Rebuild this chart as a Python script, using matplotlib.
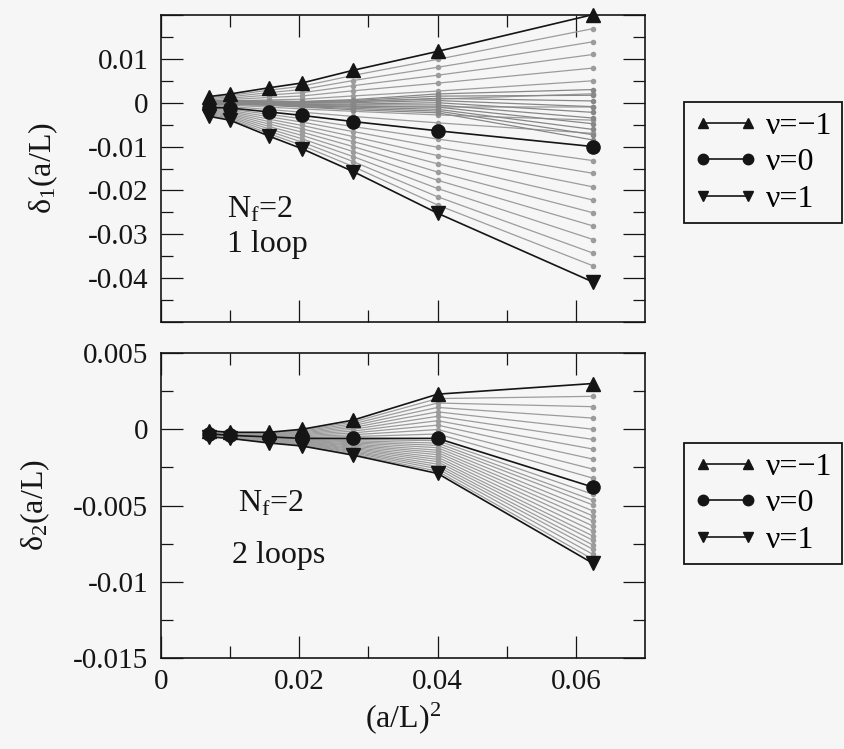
import matplotlib.pyplot as plt
import numpy as np
from matplotlib.lines import Line2D

plt.rcParams['font.family'] = ['Liberation Serif', 'DejaVu Serif']
plt.rcParams['mathtext.fontset'] = 'custom'
plt.rcParams['mathtext.rm'] = 'Liberation Serif'
plt.rcParams['mathtext.it'] = 'Liberation Serif:italic'

# (a/L)^2 for L/a = 12, 10, 8, 7, 6, 5, 4
aL2 = [0.00694, 0.0100, 0.0156, 0.0204, 0.0278, 0.0400, 0.0625]

# ---- 1 loop (delta_1) ----
d1_nu_m1 = [0.0014, 0.0020, 0.0034, 0.0045, 0.0074, 0.0117, 0.0201]
d1_nu_0 = [-0.0011, -0.0012, -0.0021, -0.0029, -0.0043, -0.0064, -0.0100]
d1_nu_p1 = [-0.0031, -0.0040, -0.0076, -0.0105, -0.0157, -0.0252, -0.0409]

# intermediate nu between -1 and 0
d1_grey_up = [
    [0.00115, 0.00168, 0.00285, 0.00376, 0.00623, 0.00989, 0.01690],
    [0.00090, 0.00136, 0.00230, 0.00302, 0.00506, 0.00808, 0.01390],
    [0.00065, 0.00104, 0.00175, 0.00228, 0.00389, 0.00627, 0.01100],
    [0.00040, 0.00072, 0.00120, 0.00154, 0.00272, 0.00446, 0.00790],
    [0.00015, 0.00040, 0.00065, 0.00080, 0.00155, 0.00265, 0.00500],
    [-0.00010, 0.00008, 0.00010, 0.00006, 0.00038, 0.00084, 0.00204],
    [-0.00035, -0.00024, -0.00045, -0.00068, -0.00079, -0.00097, -0.00097],
    [-0.00060, -0.00056, -0.00100, -0.00142, -0.00196, -0.00278, -0.00398],
    [-0.00085, -0.00088, -0.00155, -0.00216, -0.00313, -0.00459, -0.00699],
]
# dense band near zero
d1_grey_mid = [
    [0.0004, 0.0005, 0.0004, 0.0003, 0.0007, 0.0020, 0.0030],
    [0.0003, 0.0004, 0.0003, 0.0002, 0.0005, 0.0015, 0.0017],
    [0.0002, 0.0003, 0.0002, 0.0000, 0.0002, 0.0010, 0.0004],
    [0.0001, 0.0002, 0.0001, -0.0001, 0.0000, 0.0005, -0.0009],
    [0.0000, 0.0001, 0.0000, -0.0003, -0.0003, 0.0000, -0.0022],
    [-0.0001, 0.0000, -0.0001, -0.0004, -0.0005, -0.0005, -0.0035],
    [-0.0002, -0.0001, -0.0002, -0.0006, -0.0008, -0.0010, -0.0048],
    [-0.0003, -0.0002, -0.0004, -0.0007, -0.0010, -0.0015, -0.0061],
    [-0.0004, -0.0003, -0.0005, -0.0009, -0.0013, -0.0019, -0.0073],
    [-0.0005, -0.0004, -0.0006, -0.0010, -0.0016, -0.0023, -0.0085],
]
# intermediate nu between 0 and 1
d1_grey_lo = [
    [-0.00130, -0.00148, -0.00265, -0.00366, -0.00544, -0.00828, -0.01320],
    [-0.00150, -0.00176, -0.00320, -0.00442, -0.00658, -0.01016, -0.01610],
    [-0.00170, -0.00204, -0.00375, -0.00518, -0.00772, -0.01204, -0.01920],
    [-0.00190, -0.00232, -0.00430, -0.00594, -0.00886, -0.01392, -0.02220],
    [-0.00210, -0.00260, -0.00485, -0.00670, -0.01000, -0.01580, -0.02510],
    [-0.00230, -0.00288, -0.00540, -0.00746, -0.01114, -0.01768, -0.02810],
    [-0.00250, -0.00316, -0.00595, -0.00822, -0.01228, -0.01956, -0.03120],
    [-0.00270, -0.00344, -0.00650, -0.00898, -0.01342, -0.02144, -0.03430],
    [-0.00290, -0.00372, -0.00705, -0.00974, -0.01456, -0.02332, -0.03720],
]

# ---- 2 loops (delta_2) ----
d2_nu_m1 = [-0.0001, -0.0002, -0.0002, 0.0000, 0.0006, 0.0023, 0.0030]
d2_nu_0 = [-0.0003, -0.0004, -0.0005, -0.0006, -0.0006, -0.0006, -0.0038]
d2_nu_p1 = [-0.0005, -0.0006, -0.0009, -0.0011, -0.0017, -0.0029, -0.0088]

d2_grey_up = [
    [-0.00012, -0.00022, -0.00023, -0.00006, 0.00048, 0.00201, 0.00216],
    [-0.00014, -0.00024, -0.00026, -0.00012, 0.00036, 0.00172, 0.00148],
    [-0.00016, -0.00026, -0.00029, -0.00018, 0.00024, 0.00143, 0.00073],
    [-0.00018, -0.00028, -0.00032, -0.00024, 0.00012, 0.00114, 0.00000],
    [-0.00020, -0.00030, -0.00035, -0.00030, 0.00000, 0.00085, -0.00067],
    [-0.00022, -0.00032, -0.00038, -0.00036, -0.00012, 0.00056, -0.00130],
    [-0.00024, -0.00034, -0.00041, -0.00042, -0.00024, 0.00027, -0.00196],
    [-0.00026, -0.00036, -0.00044, -0.00048, -0.00036, -0.00002, -0.00262],
    [-0.00028, -0.00038, -0.00047, -0.00054, -0.00048, -0.00031, -0.00321],
]
d2_grey_lo = [
    [-0.00031, -0.00041, -0.00053, -0.00063, -0.00067, -0.00075, -0.00427],
    [-0.00033, -0.00043, -0.00055, -0.00067, -0.00075, -0.00091, -0.00466],
    [-0.00034, -0.00044, -0.00058, -0.00070, -0.00082, -0.00106, -0.00497],
    [-0.00035, -0.00045, -0.00061, -0.00073, -0.00089, -0.00121, -0.00536],
    [-0.00037, -0.00047, -0.00063, -0.00077, -0.00097, -0.00137, -0.00569],
    [-0.00038, -0.00048, -0.00066, -0.00080, -0.00104, -0.00152, -0.00602],
    [-0.00039, -0.00049, -0.00069, -0.00083, -0.00111, -0.00167, -0.00635],
    [-0.00041, -0.00051, -0.00071, -0.00087, -0.00119, -0.00183, -0.00668],
    [-0.00042, -0.00052, -0.00074, -0.00090, -0.00126, -0.00198, -0.00701],
    [-0.00043, -0.00053, -0.00077, -0.00093, -0.00133, -0.00213, -0.00729],
    [-0.00045, -0.00055, -0.00079, -0.00097, -0.00141, -0.00229, -0.00760],
    [-0.00046, -0.00056, -0.00082, -0.00100, -0.00148, -0.00244, -0.00788],
    [-0.00047, -0.00057, -0.00085, -0.00103, -0.00155, -0.00259, -0.00821],
    [-0.00049, -0.00059, -0.00087, -0.00107, -0.00163, -0.00275, -0.00854],
]

x_ticks = [0, 0.02, 0.04, 0.06]
x_ticklabels = ['0', '0.02', '0.04', '0.06']
y1_ticks = [-0.05, -0.04, -0.03, -0.02, -0.01, 0, 0.01, 0.02]
y1_ticklabels = ['', '-0.04', '-0.03', '-0.02', '-0.01', '0', '0.01', '']
y2_ticks = [-0.015, -0.01, -0.005, 0, 0.005]
y2_ticklabels = ['-0.015', '-0.01', '-0.005', '0', '0.005']
legend_labels = ['\u03bd=\u22121', '\u03bd=0', '\u03bd=1']

bg = '#f6f6f6'
ink = '#151515'
grey = '#9c9c9c'
grey_dark = '#878787'
fs_tick = 21
fs = 23

fig = plt.figure(figsize=(8.45, 7.49), dpi=100, facecolor=bg)
W, H = 845, 749
ax1 = fig.add_axes([161 / W, 1 - 322 / H, 484 / W, 307 / H])
ax2 = fig.add_axes([161 / W, 1 - 658 / H, 484 / W, 305 / H])


def draw_panel(ax, greys, mids, curves):
    for g in greys:
        ax.plot(aL2, g, '-o', color=grey, lw=0.9, ms=4, mec='none', zorder=2)
    for g in mids:
        ax.plot(aL2, g, '-o', color=grey_dark, lw=0.9, ms=4, mec='none', zorder=2)
    for vals, m in zip(curves, ['^', 'o', 'v']):
        ax.plot(aL2, vals, '-', marker=m, color=ink, lw=1.2, ms=9.5, zorder=4,
                clip_on=False)


draw_panel(ax1, d1_grey_up + d1_grey_lo, d1_grey_mid, [d1_nu_m1, d1_nu_0, d1_nu_p1])
draw_panel(ax2, d2_grey_up + d2_grey_lo, [], [d2_nu_m1, d2_nu_0, d2_nu_p1])

for ax in (ax1, ax2):
    ax.set_facecolor(bg)
    ax.set_xlim(0, 0.07)
    ax.set_xticks(x_ticks)
    ax.set_xticks([0.01, 0.03, 0.05], minor=True)
    ax.tick_params(which='both', direction='in', top=True, right=True,
                   width=0.9, color=ink, labelsize=fs_tick, labelcolor=ink)
    ax.tick_params(which='major', length=16)
    ax.tick_params(which='minor', length=8.5)
    ax.tick_params(axis='y', pad=9)
    ax.tick_params(axis='x', pad=8)
    for s in ax.spines.values():
        s.set_linewidth(1.2)
        s.set_color(ink)

ax1.set_ylim(-0.05, 0.02)
ax1.set_yticks(y1_ticks)
ax1.set_yticklabels(y1_ticklabels)
ax1.set_yticks(np.arange(-0.045, 0.02, 0.01), minor=True)
ax1.set_xticklabels([])
ax1.set_ylabel('\u03b4$_1$(a/L)', fontsize=fs, color=ink, labelpad=20)

ax2.set_ylim(-0.015, 0.005)
ax2.set_yticks(y2_ticks)
ax2.set_yticklabels(y2_ticklabels)
ax2.set_yticks([-0.0125, -0.0075, -0.0025, 0.0025], minor=True)
ax2.set_xticklabels(x_ticklabels)
ax2.set_ylabel('\u03b4$_2$(a/L)', fontsize=fs, color=ink, labelpad=15)
ax2.set_xlabel('(a/L)$^2$', fontsize=fs, color=ink, labelpad=4)

ax1.text(0.136, 0.339, 'N$_\\mathrm{f}$=2', transform=ax1.transAxes, fontsize=fs, color=ink)
ax1.text(0.136, 0.229, '1 loop', transform=ax1.transAxes, fontsize=fs, color=ink)
ax2.text(0.159, 0.479, 'N$_\\mathrm{f}$=2', transform=ax2.transAxes, fontsize=fs, color=ink)
ax2.text(0.147, 0.311, '2 loops', transform=ax2.transAxes, fontsize=fs, color=ink)

handles = [Line2D([], [], color=ink, lw=1.2, marker=m, ms=7.5) for m in ['^', 'o', 'v']]
for ax, top in ((ax1, 102), (ax2, 443)):
    leg = ax.legend(handles, legend_labels, loc='upper left',
                    bbox_to_anchor=(684 / W, 1 - top / H), bbox_transform=fig.transFigure,
                    borderaxespad=0, numpoints=2, handlelength=2.0, handletextpad=0.28,
                    borderpad=0.3, labelspacing=0.22, fontsize=fs, fancybox=False,
                    framealpha=1, facecolor=bg, edgecolor=ink)
    leg.get_frame().set_linewidth(1.3)

fig.savefig('out.png', dpi=100, facecolor=bg)
